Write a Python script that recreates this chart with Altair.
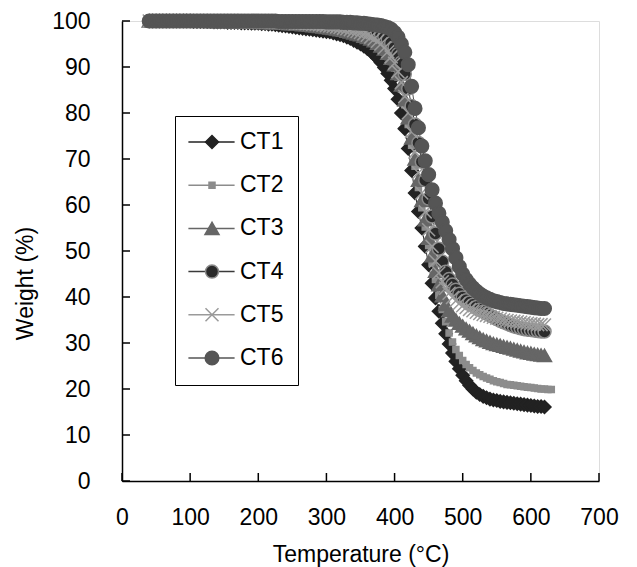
import altair as alt
import pandas as pd

temps = [40, 45, 50, 55, 60, 65, 70, 75, 80, 85,
         90, 95, 100, 105, 110, 115, 120, 125, 130, 135,
         140, 145, 150, 155, 160, 165, 170, 175, 180, 185,
         190, 195, 200, 205, 210, 215, 220, 225, 230, 235,
         240, 245, 250, 255, 260, 265, 270, 275, 280, 285,
         290, 295, 300, 305, 310, 315, 320, 325, 330, 335,
         340, 345, 350, 355, 360, 365, 370, 375, 380, 385,
         390, 395, 400, 405, 410, 415, 420, 425, 430, 435,
         440, 445, 450, 455, 460, 465, 470, 475, 480, 485,
         490, 495, 500, 505, 510, 515, 520, 525, 530, 535,
         540, 545, 550, 555, 560, 565, 570, 575, 580, 585,
         590, 595, 600, 605, 610, 615, 620]

ct1 = [100.0, 100.0, 100.0, 100.0, 100.0, 100.0, 100.0, 100.0, 100.0, 100.0,
       100.0, 100.0, 100.0, 99.9, 99.9, 99.9, 99.9, 99.9, 99.9, 99.8,
       99.8, 99.8, 99.8, 99.7, 99.7, 99.7, 99.7, 99.6, 99.6, 99.6,
       99.5, 99.5, 99.5, 99.4, 99.4, 99.3, 99.3, 99.2, 99.1, 99.0,
       98.9, 98.8, 98.7, 98.6, 98.5, 98.4, 98.3, 98.2, 98.1, 98.0,
       97.9, 97.8, 97.7, 97.6, 97.4, 97.2, 97.0, 96.8, 96.5, 96.2,
       95.8, 95.4, 95.0, 94.5, 94.0, 93.4, 92.7, 91.9, 91.0, 89.9,
       88.6, 87.1, 85.3, 83.0, 80.0, 76.6, 72.3, 67.5, 62.6, 58.6,
       55.0, 51.0, 47.0, 43.0, 39.8, 36.9, 34.3, 32.0, 29.8, 27.8,
       26.0, 24.4, 23.0, 21.8, 20.8, 20.0, 19.3, 18.8, 18.4, 18.1,
       17.8, 17.6, 17.5, 17.3, 17.2, 17.1, 17.0, 16.9, 16.8, 16.7,
       16.6, 16.5, 16.4, 16.3, 16.2, 16.2, 16.1]

ct2 = [100.0, 100.0, 100.0, 100.0, 100.0, 100.0, 100.0, 100.0, 100.0, 100.0,
       100.0, 100.0, 100.0, 100.0, 100.0, 99.9, 99.9, 99.9, 99.9, 99.9,
       99.9, 99.9, 99.9, 99.8, 99.8, 99.8, 99.8, 99.8, 99.8, 99.7,
       99.7, 99.7, 99.7, 99.6, 99.6, 99.6, 99.5, 99.5, 99.5, 99.4,
       99.4, 99.3, 99.3, 99.2, 99.1, 99.0, 98.9, 98.8, 98.7, 98.6,
       98.5, 98.4, 98.3, 98.2, 98.0, 97.9, 97.7, 97.5, 97.3, 97.1,
       96.9, 96.7, 96.4, 96.1, 95.8, 95.4, 95.0, 94.5, 93.9, 93.2,
       92.3, 91.2, 89.8, 87.8, 85.2, 81.8, 77.5, 73.0, 68.4, 63.8,
       59.4, 55.2, 51.2, 47.4, 43.8, 40.4, 37.3, 34.6, 32.2, 30.2,
       28.6, 27.3, 26.2, 25.3, 24.6, 24.0, 23.5, 23.1, 22.7, 22.4,
       22.1, 21.8, 21.6, 21.4, 21.2, 21.0, 20.9, 20.8, 20.7, 20.6,
       20.5, 20.4, 20.3, 20.2, 20.1, 20.0, 20.0]
# CT2 runs a little further than the other samples
ct2_extra_temps = [625, 630]
ct2_extra = [19.9, 19.9]

ct3 = [100.0, 100.0, 100.0, 100.0, 100.0, 100.0, 100.0, 100.0, 100.0, 100.0,
       100.0, 100.0, 100.0, 100.0, 100.0, 100.0, 100.0, 100.0, 99.9, 99.9,
       99.9, 99.9, 99.9, 99.9, 99.9, 99.9, 99.8, 99.8, 99.8, 99.8,
       99.8, 99.8, 99.7, 99.7, 99.7, 99.7, 99.6, 99.6, 99.6, 99.5,
       99.5, 99.4, 99.4, 99.3, 99.3, 99.2, 99.2, 99.1, 99.0, 98.9,
       98.8, 98.7, 98.6, 98.5, 98.4, 98.3, 98.1, 98.0, 97.8, 97.6,
       97.4, 97.2, 97.0, 96.7, 96.4, 96.1, 95.7, 95.2, 94.6, 93.9,
       93.0, 91.9, 90.5, 88.6, 86.1, 82.9, 79.0, 74.6, 70.0, 65.4,
       61.0, 56.8, 52.8, 49.0, 45.6, 42.7, 40.3, 38.4, 37.0, 35.9,
       35.0, 34.3, 33.7, 33.1, 32.6, 32.1, 31.6, 31.2, 30.8, 30.5,
       30.2, 29.9, 29.7, 29.5, 29.3, 29.1, 28.9, 28.7, 28.5, 28.3,
       28.1, 27.9, 27.8, 27.6, 27.5, 27.4, 27.3]

ct4 = [100.0, 100.0, 100.0, 100.0, 100.0, 100.0, 100.0, 100.0, 100.0, 100.0,
       100.0, 100.0, 100.0, 100.0, 100.0, 100.0, 100.0, 100.0, 100.0, 100.0,
       100.0, 100.0, 100.0, 100.0, 100.0, 100.0, 100.0, 99.9, 99.9, 99.9,
       99.9, 99.9, 99.9, 99.9, 99.9, 99.9, 99.9, 99.8, 99.8, 99.8,
       99.8, 99.8, 99.8, 99.7, 99.7, 99.7, 99.7, 99.6, 99.6, 99.6,
       99.5, 99.5, 99.5, 99.4, 99.4, 99.3, 99.3, 99.2, 99.1, 99.0,
       98.9, 98.8, 98.7, 98.5, 98.3, 98.1, 97.8, 97.5, 97.1, 96.6,
       96.0, 95.2, 94.2, 92.8, 91.0, 88.5, 85.3, 81.5, 77.5, 73.5,
       69.4, 65.4, 61.4, 57.5, 53.8, 50.5, 47.7, 45.5, 43.9, 42.7,
       41.6, 40.7, 39.9, 39.3, 38.8, 38.3, 37.8, 37.3, 36.8, 36.4,
       36.0, 35.6, 35.2, 34.8, 34.5, 34.2, 33.9, 33.6, 33.4, 33.2,
       33.0, 32.9, 32.8, 32.7, 32.6, 32.5, 32.5]

ct5 = [100.0, 100.0, 100.0, 100.0, 100.0, 100.0, 100.0, 100.0, 100.0, 100.0,
       100.0, 100.0, 100.0, 100.0, 100.0, 100.0, 100.0, 100.0, 100.0, 100.0,
       100.0, 100.0, 100.0, 99.9, 99.9, 99.9, 99.9, 99.9, 99.9, 99.9,
       99.8, 99.8, 99.8, 99.8, 99.8, 99.8, 99.7, 99.7, 99.7, 99.7,
       99.6, 99.6, 99.6, 99.5, 99.5, 99.5, 99.4, 99.4, 99.3, 99.3,
       99.2, 99.1, 99.0, 98.9, 98.8, 98.7, 98.6, 98.4, 98.3, 98.1,
       97.9, 97.7, 97.5, 97.2, 96.9, 96.5, 96.1, 95.6, 95.0, 94.2,
       93.3, 92.2, 90.8, 89.0, 86.6, 83.6, 80.0, 75.9, 71.5, 67.0,
       62.6, 58.5, 54.6, 51.0, 47.8, 45.2, 43.3, 41.9, 40.8, 39.9,
       39.2, 38.6, 38.1, 37.7, 37.3, 37.0, 36.7, 36.4, 36.2, 36.0,
       35.8, 35.6, 35.4, 35.2, 35.0, 34.9, 34.8, 34.7, 34.6, 34.5,
       34.4, 34.3, 34.2, 34.1, 34.0, 34.0, 33.9]

ct6 = [100.0, 100.0, 100.0, 100.0, 100.0, 100.0, 100.0, 100.0, 100.0, 100.0,
       100.0, 100.0, 100.0, 100.0, 100.0, 100.0, 100.0, 100.0, 100.0, 100.0,
       100.0, 100.0, 100.0, 100.0, 100.0, 100.0, 100.0, 100.0, 100.0, 100.0,
       100.0, 100.0, 100.0, 100.0, 100.0, 100.0, 100.0, 100.0, 99.9, 99.9,
       99.9, 99.9, 99.9, 99.9, 99.9, 99.9, 99.9, 99.9, 99.9, 99.9,
       99.9, 99.9, 99.8, 99.8, 99.8, 99.8, 99.8, 99.7, 99.7, 99.7,
       99.6, 99.6, 99.5, 99.5, 99.4, 99.3, 99.2, 99.1, 99.0, 98.8,
       98.6, 98.2, 97.5, 96.5, 95.0, 93.2, 90.5, 85.8, 81.0, 76.8,
       72.8, 69.6, 66.6, 63.3, 60.4, 58.2, 56.3, 54.4, 52.5, 50.5,
       48.5, 46.6, 45.0, 43.8, 42.8, 42.0, 41.3, 40.7, 40.2, 39.8,
       39.5, 39.2, 39.0, 38.8, 38.6, 38.5, 38.4, 38.3, 38.2, 38.1,
       38.0, 37.9, 37.8, 37.7, 37.6, 37.5, 37.5]

series_names = ["CT1", "CT2", "CT3", "CT4", "CT5", "CT6"]
series_temps = [temps, temps + ct2_extra_temps, temps, temps, temps, temps]
series_values = [ct1, ct2 + ct2_extra, ct3, ct4, ct5, ct6]

x_ticks = [0, 100, 200, 300, 400, 500, 600, 700]
y_ticks = [0, 10, 20, 30, 40, 50, 60, 70, 80, 90, 100]

# styles
line_colors = ["#222222", "#8c8c8c", "#666666", "#3a3a3a", "#9a9a9a", "#555555"]
fill_colors = ["#222222", "#8c8c8c", "#666666", "#2a2a2a", "#9a9a9a", "#555555"]
stroke_colors = ["#222222", "#8c8c8c", "#666666", "#8a8a8a", "#9a9a9a", "#555555"]
shapes = ["diamond", "square", "triangle-up", "circle", "M-1,-1L1,1M1,-1L-1,1", "circle"]
sizes = [169, 36, 196, 169, 169, 185]

rows = []
for name, ts, vals in zip(series_names, series_temps, series_values):
    for t, w in zip(ts, vals):
        rows.append({"series": name, "line_series": name, "T": t, "W": w})
df = pd.DataFrame(rows)

FONT = "Liberation Sans"
PLOT_W = 477
PLOT_H = 460

x_axis = alt.Axis(values=x_ticks, ticks=False, tickSize=0, grid=False, domainColor="black",
                  domainWidth=1.5, labelFont=FONT, labelFontSize=23, labelColor="black",
                  labelPadding=25, labelFlush=False, labelOverlap=False,
                  title="Temperature (°C)", titleFont=FONT, titleFontSize=23,
                  titleFontWeight="normal", titleColor="black",
                  titleBaseline="alphabetic", titleY=80)
y_axis = alt.Axis(values=y_ticks, ticks=False, tickSize=0, grid=False, domainColor="black",
                  domainWidth=1.5, labelFont=FONT, labelFontSize=23, labelColor="black",
                  labelPadding=32, labelFlush=False, labelOverlap=False,
                  title="Weight (%)", titleFont=FONT, titleFontSize=23,
                  titleFontWeight="normal", titleColor="black", titleX=-85, titleY=262)

x_enc = alt.X("T:Q", scale=alt.Scale(domain=[0, 700]), axis=x_axis)
y_enc = alt.Y("W:Q", scale=alt.Scale(domain=[0, 100]), axis=y_axis)

line_legend = alt.Legend(orient="none", legendX=53, legendY=95, title=None,
                         symbolType="M-2.2,0L2.2,0", symbolSize=441, symbolStrokeWidth=1.5,
                         padding=14.5, rowPadding=19.2, symbolOffset=10.5,
                         labelFont=FONT, labelFontSize=23, labelOpacity=0, labelOffset=16.5)

point_legend = alt.Legend(orient="none", legendX=53, legendY=95, title=None,
                          strokeColor="black", padding=14.5, rowPadding=19.2,
                          symbolOffset=11, symbolStrokeWidth=1.5, symbolOpacity=1,
                          labelFont=FONT, labelFontSize=23, labelColor="black", labelOffset=16.5,
                          labelExpr="datum.label + ' '")

lines = alt.Chart(df).mark_line(strokeWidth=1).encode(
    x=x_enc, y=y_enc,
    color=alt.Color("line_series:N", scale=alt.Scale(range=line_colors), legend=line_legend),
)

points = alt.Chart(df).mark_point(filled=True, opacity=1, strokeWidth=1.5).encode(
    x=x_enc, y=y_enc,
    shape=alt.Shape("series:N", scale=alt.Scale(domain=series_names, range=shapes), legend=point_legend),
    fill=alt.Fill("series:N", scale=alt.Scale(domain=series_names, range=fill_colors), legend=point_legend),
    stroke=alt.Stroke("series:N", scale=alt.Scale(domain=series_names, range=stroke_colors), legend=point_legend),
    size=alt.Size("series:N", scale=alt.Scale(type="ordinal", domain=series_names, range=sizes), legend=point_legend),
)

xt = alt.Chart(pd.DataFrame({"T": x_ticks})).mark_rule(color="black", strokeWidth=1.5).encode(
    x=x_enc, y=alt.value(PLOT_H), y2=alt.value(PLOT_H - 8)
)
yt = alt.Chart(pd.DataFrame({"W": y_ticks})).mark_rule(color="black", strokeWidth=1.5).encode(
    y=y_enc, x=alt.value(0), x2=alt.value(8)
)

chart = alt.layer(lines, points, xt, yt).properties(
    width=PLOT_W, height=PLOT_H,
    autosize=alt.AutoSizeParams(type="none"),
    padding={"left": 114, "top": 13, "right": 22, "bottom": 86},
).configure_view(stroke=None).configure(font=FONT)

chart.save("out.html", embed_options={"renderer": "svg", "actions": False})
